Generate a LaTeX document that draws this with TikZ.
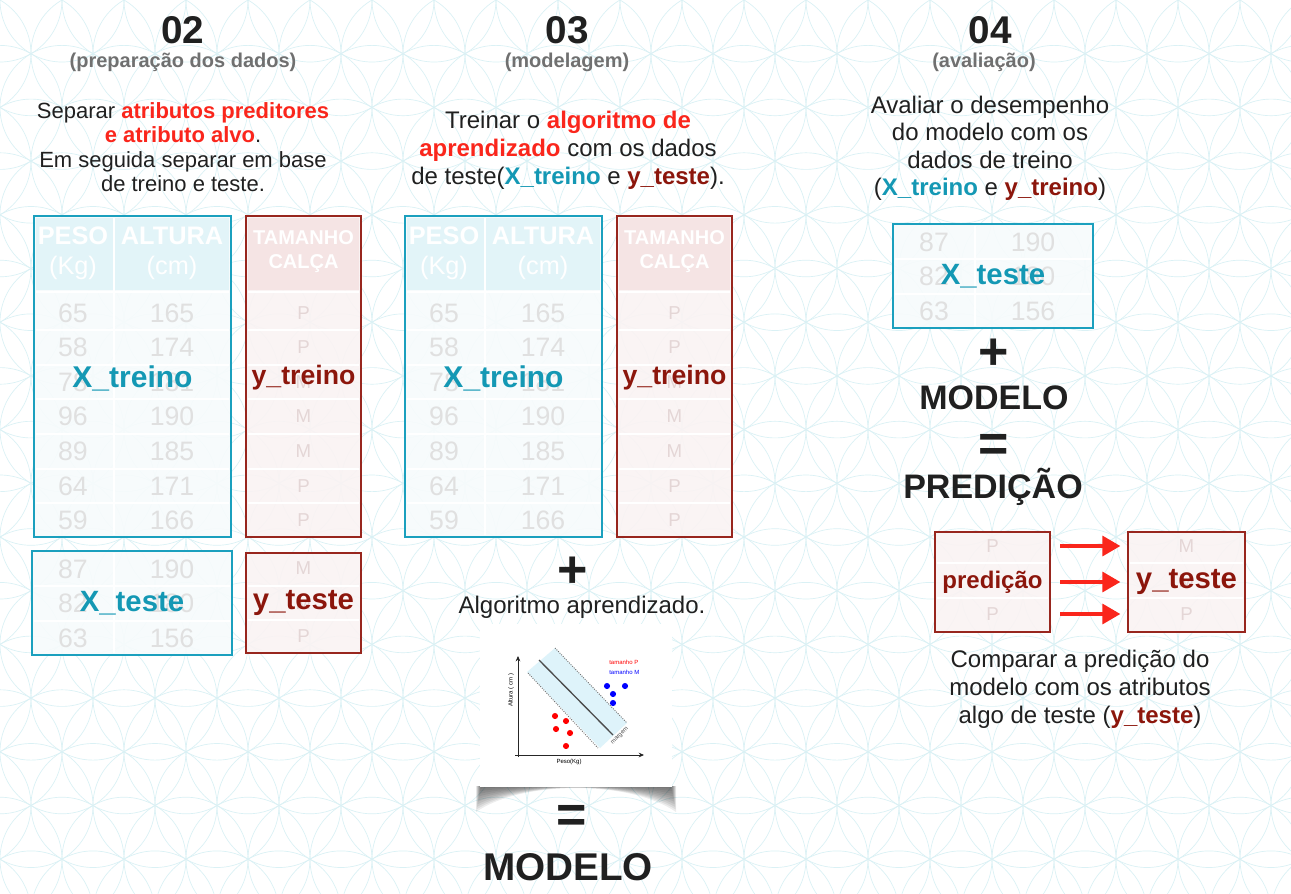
\documentclass[tikz,border=0pt]{standalone}
\usepackage{fontspec}
\setmainfont{Liberation Sans}
\usetikzlibrary{arrows.meta,positioning}

\definecolor{ciano}{RGB}{27,160,190}
\definecolor{cianotxt}{RGB}{20,152,180}
\definecolor{vinho}{RGB}{152,38,30}
\definecolor{vinhotxt}{RGB}{140,22,12}
\definecolor{vermelho}{RGB}{250,38,28}
\definecolor{cinza}{RGB}{112,112,112}
\definecolor{texto}{RGB}{32,32,32}
\definecolor{celula}{RGB}{224,224,224}
\definecolor{celulay}{RGB}{228,214,214}
\definecolor{cabx}{RGB}{226,244,248}
\definecolor{fundoy}{RGB}{245,228,228}
\definecolor{corpox}{RGB}{247,251,252}
\definecolor{corpoy}{RGB}{250,243,243}
\definecolor{flor}{RGB}{218,241,245}
\definecolor{faixa}{RGB}{222,243,250}

\newcommand{\destaque}[1]{\textcolor{vermelho}{\textbf{#1}}}
\newcommand{\xcor}[1]{\textcolor{cianotxt}{\textbf{#1}}}
\newcommand{\ycor}[1]{\textcolor{vinhotxt}{\textbf{#1}}}
\newcommand{\tam}[2]{\fontsize{#1}{#2}\selectfont}

\tikzset{
  xcaixa/.style={draw=ciano, line width=1.5pt, fill=corpox, fill opacity=0.9, text opacity=1, inner sep=0pt},
  ycaixa/.style={draw=vinho, line width=1.5pt, fill=corpoy, fill opacity=0.9, text opacity=1, inner sep=0pt},
  cel/.style={text=celula, inner sep=0pt, font=\tam{20}{24}},
  cely/.style={text=celulay, inner sep=0pt, font=\tam{14}{16}},
  cabtxt/.style={text=white, inner sep=0pt, align=center, font=\bfseries\tam{19}{22.5}},
  cabytxt/.style={text=white, inner sep=0pt, align=center, font=\bfseries\tam{15}{18}},
  divisa/.style={white, line width=1.5pt},
  xrot/.style={text=cianotxt, inner sep=0pt, font=\bfseries\tam{22.5}{24}},
  yrot/.style={text=vinhotxt, inner sep=0pt, font=\bfseries\tam{22}{24}},
  num/.style={text=texto, anchor=base, inner sep=0pt, font=\bfseries\tam{29}{30}},
  sub/.style={text=cinza, inner sep=0pt, font=\bfseries\tam{15}{17}},
  corpo/.style={text=texto, align=center, inner sep=0pt},
  grande/.style={text=texto, anchor=base, inner sep=0pt, font=\bfseries\tam{25.5}{28}},
  sinal/.style={text=texto, inner sep=0pt, font=\bfseries\tam{39}{40}},
  seta/.style={draw=vermelho, line width=2.5pt, -{Triangle[length=13.5pt,width=15pt]}, shorten <=7pt, shorten >=5pt},
  ponto/.style={circle, inner sep=0pt, minimum size=4.6pt},
  mini/.style={inner sep=0pt, font=\tam{4.5}{5}},
}

\begin{document}
\begin{tikzpicture}[x=0.75pt,y=0.75pt,yscale=-1,xscale=1]
\useasboundingbox (0,0) rectangle (1291,893);
\fill[white] (0,0) rectangle (1291,893);

% fundo: flor da vida
\begin{scope}
\clip (0,0) rectangle (1291,893);
\foreach \j in {0,...,17}{
  \foreach \i in {0,...,22}{
    \draw[flor, line width=0.5pt] ({\i*62-mod(\j,2)*31},{\j*53.7}) circle[radius=62];
  }}
\end{scope}

% ===== 02 (preparacao dos dados) =====
\node[num] (n02) at (183,43) {02};
\node[sub] (s02) at (183,62) {(preparação dos dados)};
\node[corpo, font=\tam{16.5}{18.4}] (t02) at (183,147) {Separar \destaque{atributos preditores}\\\destaque{e atributo alvo}.\\Em seguida separar em base\\de treino e teste.};

% ===== 03 (modelagem) =====
\node[num] (n03) at (567,43) {03};
\node[sub] (s03) at (567,62) {(modelagem)};
\node[corpo, font=\tam{18}{21}] (t03) at (568,150) {Treinar o \destaque{algoritmo de}\\\destaque{aprendizado} com os dados\\de teste(\xcor{X\_treino} e \ycor{y\_teste}).};

% tabelas de treino (02 e 03)
\foreach \dx/\k in {0/1,371/2}{
\begin{scope}[shift={(\dx,0)}]
  \node[xcaixa, minimum width=147.75pt, minimum height=240.75pt] (xtr\k) at (132.5,376.5) {};
  \node[ycaixa, minimum width=86.25pt, minimum height=240.75pt] (ytr\k) at (303.5,376.5) {};
  \fill[cabx] (36,218) rectangle (229,290);
  \fill[fundoy] (248,218) rectangle (359,290);
  \foreach \y in {292,330,364.5,399,433.5,468.5,503}{
    \draw[divisa] (36,\y) -- (229,\y);
    \draw[divisa] (248,\y) -- (359,\y);}
  \draw[divisa] (114,218) -- (114,535);
  \node[cabtxt] at (73,253) {PESO\\\mdseries(Kg)};
  \node[cabtxt] at (172,253) {ALTURA\\\mdseries(cm)};
  \node[cabytxt] at (303.5,252) {TAMANHO\\CALÇA};
  \foreach \a/\b/\c/\y in {65/165/P/313,58/174/P/347,78/181/M/382,96/190/M/416,89/185/M/451,64/171/P/486,59/166/P/520}{
    \node[cel] at (73,\y) {\a};
    \node[cel] at (172,\y) {\b};
    \node[cely] at (303.5,\y) {\c};}
  \node[xrot] at ([yshift=1.5pt]xtr\k.center) {X\_treino};
  \node[yrot, font=\bfseries\tam{20}{22}] at ([yshift=1pt]ytr\k.center) {y\_treino};
\end{scope}}

% tabelas de teste X (02 e 04)
\foreach \dx/\dy/\k in {0/0/1,861/-327/3}{
\begin{scope}[shift={(\dx,\dy)}]
  \node[xcaixa, minimum width=150pt, minimum height=78pt] (xte\k) at (132,603) {};
  \foreach \y in {586,620.5} \draw[divisa] (34,\y) -- (230,\y);
  \draw[divisa] (114,553) -- (114,653);
  \foreach \a/\b/\y in {87/190/569,82/180/603,63/156/638}{
    \node[cel] at (73,\y) {\a};
    \node[cel] at (172,\y) {\b};}
  \node[xrot, font=\bfseries\tam{22}{24}] at (xte\k) {X\_teste};
\end{scope}}

% y_teste (02)
\node[ycaixa, minimum width=86.25pt, minimum height=75pt] (yte1) at (303.5,603) {};
\foreach \y in {586,620} \draw[divisa] (248,\y) -- (359,\y);
\node[cely] at (303.5,568) {M};
\node[cely] at (303.5,603) {M};
\node[cely] at (303.5,636) {P};
\node[yrot] at (yte1) {y\_teste};

% ===== 03: algoritmo =====
\node[sinal] (mais2) at (573,572) {+};
\node[corpo, font=\tam{18}{20}] (algo) at (582,607) {Algoritmo aprendizado.};

% cartao do grafico (sombra em camadas, mais forte nos cantos)
\foreach \k in {1,...,10}
  \fill[black, opacity=0.07] ({481-0.5*\k},786) -- ({671+0.5*\k},786) -- ({671+0.5*\k},{786+2.6*\k}) .. controls (630,{786-0.6*\k}) and (522,{786-0.6*\k}) .. ({481-0.5*\k},{786+2.6*\k}) -- cycle;
\fill[white] (480,624) rectangle (672,787);
\fill[faixa] (527,672) -- (555,648) -- (627,723) -- (600,748) -- cycle;
\draw[black!55, densely dotted, line width=0.7pt] (528,673) -- (598,748);
\draw[black!55, densely dotted, line width=0.7pt] (555,648) -- (627,723);
\draw[black!70, line width=1pt] (539,660) -- (613,735);
\draw[black!85, line width=0.7pt, -{Stealth[length=4pt,width=3.5pt]}] (515,755) -- (644,755);
\draw[black!85, line width=0.7pt, -{Stealth[length=4pt,width=3.5pt]}] (518,757) -- (518,656);
\foreach \px/\py in {555/716,566/721,556/729,570/733,566/746}
  \node[ponto, fill=red] at (\px,\py) {};
\foreach \px/\py in {607/686,625/686,613/694,613/703}
  \node[ponto, fill=blue] at (\px,\py) {};
\node[mini, text=red, anchor=west] at (609,662) {tamanho P};
\node[mini, text=blue, anchor=west] at (609,672) {tamanho M};
\node[mini, rotate=90] at (511,690) {Altura ( cm )};
\node[mini] at (569,762) {Peso(Kg)};
\node[mini, rotate=45, text=black!70] at (620,736) {margem};

\node[sinal] (igual2) at (572,819) {=};
\node[grande, font=\bfseries\tam{29}{32}] (modelo2) at (568,880) {MODELO};

% ===== 04 (avaliacao) =====
\node[num] (n04) at (990,43) {04};
\node[sub] (s04) at (984,62) {(avaliação)};
\node[corpo, font=\tam{18}{20.6}] (t04) at (990,148.5) {Avaliar o desempenho\\do modelo com os\\dados de treino\\(\xcor{X\_treino} e \ycor{y\_treino})};

\node[sinal] (mais3) at (994,354) {+};
\node[grande] (modelo3) at (994,409) {MODELO};
\node[sinal] (igual3) at (994,448) {=};
\node[grande] (predicao) at (993,498) {PREDIÇÃO};

% predicao x y_teste
\node[ycaixa, minimum width=86.25pt, minimum height=75pt] (pred3) at (992.5,582) {};
\node[ycaixa, minimum width=87.75pt, minimum height=75pt] (yte3) at (1186.5,582) {};
\foreach \y in {563,598}{
  \draw[divisa] (937,\y) -- (1048,\y);
  \draw[divisa] (1130,\y) -- (1243,\y);}
\node[cely] (p1) at (992.5,546) {P};
\node[cely] (p3) at (992.5,614) {P};
\node[cely] (m1) at (1186.5,546) {M};
\node[cely] (m2) at (1186.5,581) {M};
\node[cely] (m3) at (1186.5,614) {P};
\node[yrot, font=\bfseries\tam{18}{20}] (predtxt) at (pred3) {predição};
\node[yrot] (ytetxt) at (yte3) {y\_teste};

\draw[seta] (pred3.east |- p1) -- (yte3.west |- p1);
\draw[seta] (pred3.east) -- (yte3.west);
\draw[seta] (pred3.east |- p3) -- (yte3.west |- p3);

\node[corpo, font=\tam{18}{21}] (comp) at (1080,689) {Comparar a predição do\\modelo com os atributos\\algo de teste (\ycor{y\_teste})};

\end{tikzpicture}
\end{document}
